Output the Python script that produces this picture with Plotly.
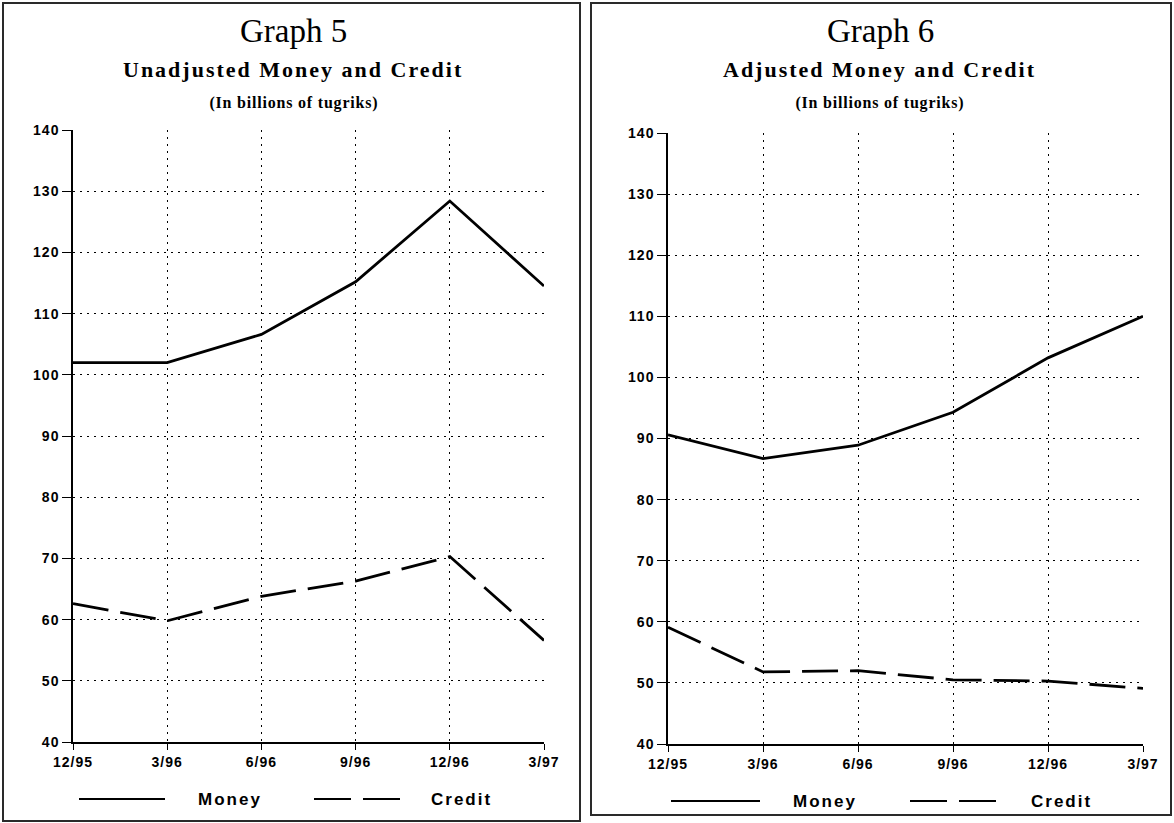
import plotly.graph_objects as go

periods = ["12/95", "3/96", "6/96", "9/96", "12/96", "3/97"]
money_unadj = [102.0, 102.0, 106.6, 115.2, 128.4, 114.5]
credit_unadj = [62.6, 59.8, 63.8, 66.3, 70.3, 56.6]
money_adj = [90.6, 86.7, 88.9, 94.3, 103.2, 110.0]
credit_adj = [59.1, 51.8, 52.0, 50.5, 50.3, 49.1]
series_names = ["Money", "Credit"]

W, H = 1174, 823
def px(x):
    return x / W
def py(y):
    return 1 - y / H

fig = go.Figure()

DASH = "36px,12px"
LINEW = 2.8

fig.add_trace(go.Scatter(x=periods, y=money_unadj, mode="lines", name=series_names[0],
                         line=dict(color="black", width=LINEW), xaxis="x", yaxis="y",
                         showlegend=False))
fig.add_trace(go.Scatter(x=periods, y=credit_unadj, mode="lines", name=series_names[1],
                         line=dict(color="black", width=LINEW, dash=DASH), xaxis="x", yaxis="y",
                         showlegend=False))
fig.add_trace(go.Scatter(x=periods, y=money_adj, mode="lines", name=series_names[0],
                         line=dict(color="black", width=LINEW), xaxis="x2", yaxis="y2",
                         showlegend=False))
fig.add_trace(go.Scatter(x=periods, y=credit_adj, mode="lines", name=series_names[1],
                         line=dict(color="black", width=LINEW, dash=DASH), xaxis="x2", yaxis="y2",
                         showlegend=False))

tickfont = dict(family="Liberation Sans", size=14, color="black", weight="bold")

def xaxis_cfg(d0, d1, anchor):
    return dict(domain=[d0, d1], anchor=anchor, type="category", range=[0, 5],
                showgrid=True, gridcolor="black", gridwidth=1, griddash="2px,5px",
                showline=True, linecolor="black", linewidth=1.5,
                ticks="outside", ticklen=6, tickcolor="black", tickwidth=1,
                tickfont=tickfont, zeroline=False, fixedrange=True, automargin=False)

def yaxis_cfg(d0, d1, anchor):
    return dict(domain=[d0, d1], anchor=anchor, range=[40, 140], dtick=10, tick0=40,
                showgrid=True, gridcolor="black", gridwidth=1, griddash="2px,5px",
                showline=True, linecolor="black", linewidth=1.5,
                ticks="outside", ticklen=9, tickcolor="black", tickwidth=1,
                tickfont=tickfont, zeroline=False, fixedrange=True, automargin=False)

fig.update_layout(
    template="none",
    width=W, height=H,
    margin=dict(l=0, r=0, t=0, b=0, pad=0, autoexpand=False),
    paper_bgcolor="white", plot_bgcolor="white",
    xaxis=xaxis_cfg(px(73), px(544), "y"),
    yaxis=yaxis_cfg(py(742), py(130), "x"),
    xaxis2=xaxis_cfg(px(668), px(1143), "y2"),
    yaxis2=yaxis_cfg(py(744), py(133), "x2"),
    showlegend=False,
)

# panel borders
fig.add_shape(type="rect", xref="paper", yref="paper", x0=px(3), x1=px(580), y0=py(821), y1=py(3),
              line=dict(color="#2a2a2a", width=2))
fig.add_shape(type="rect", xref="paper", yref="paper", x0=px(591), x1=px(1171), y0=py(815), y1=py(3),
              line=dict(color="#2a2a2a", width=2))

def titles(cx, num, main):
    fig.add_annotation(x=px(cx), y=py(31), xref="paper", yref="paper", text=num, showarrow=False,
                       xanchor="center", yanchor="middle",
                       font=dict(family="Liberation Serif", size=33, color="black"))
    fig.add_annotation(x=px(cx), y=py(69), xref="paper", yref="paper", text="<b>" + main + "</b>",
                       showarrow=False, xanchor="center", yanchor="middle",
                       font=dict(family="Liberation Serif", size=22, color="black"))
    fig.add_annotation(x=px(cx), y=py(103), xref="paper", yref="paper",
                       text="<b>(In billions of tugriks)</b>", showarrow=False,
                       xanchor="center", yanchor="middle",
                       font=dict(family="Liberation Serif", size=16, color="black"))

titles(294, "Graph 5", "Unadjusted Money and Credit")
titles(880, "Graph 6", "Adjusted Money and Credit")

# legend keys drawn under each panel
leg_font = dict(family="Liberation Sans", size=17, color="black", weight="bold")
def legend(y, m0, m1, mtext, c0, c1, ctext):
    fig.add_shape(type="line", xref="paper", yref="paper", x0=px(m0), x1=px(m1), y0=py(y), y1=py(y),
                  line=dict(color="black", width=1.8))
    fig.add_shape(type="line", xref="paper", yref="paper", x0=px(c0), x1=px(c1), y0=py(y), y1=py(y),
                  line=dict(color="black", width=1.8, dash="37px,12px"))
    fig.add_annotation(x=px(mtext), y=py(y), xref="paper", yref="paper", text=series_names[0],
                       showarrow=False, xanchor="center", yanchor="middle", font=leg_font)
    fig.add_annotation(x=px(ctext), y=py(y), xref="paper", yref="paper", text=series_names[1],
                       showarrow=False, xanchor="center", yanchor="middle", font=leg_font)

legend(799, 79, 165, 230, 314, 400, 462)
legend(801, 671, 760, 825, 910, 996, 1061)

post = """
document.body.style.margin='0';
document.body.style.overflow='hidden';
var gd = document.getElementById('{plot_id}');
gd.querySelectorAll('.annotation-text').forEach(function(t){
  var s = t.textContent;
  if (s.indexOf('Money and Credit') >= 0) { t.style.letterSpacing = '2px'; }
  else if (s.indexOf('billions') >= 0) { t.style.letterSpacing = '0.8px'; }
  else if (s === 'Money' || s === 'Credit') { t.style.letterSpacing = '2px'; }
});
gd.querySelectorAll('.xtick text, .ytick text, .x2tick text, .y2tick text').forEach(function(t){
  t.style.letterSpacing = '1px';
});
"""

fig.write_html("out.html", config={"displayModeBar": False}, post_script=post)
